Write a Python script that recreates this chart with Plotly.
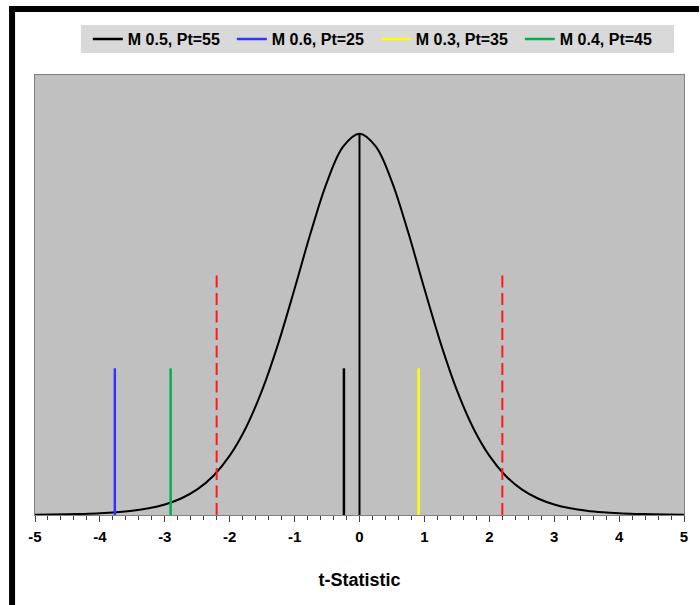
import plotly.graph_objects as go

# t-density curve (df = 11) sampled every 0.25
t_values = [-5.0, -4.75, -4.5, -4.25, -4.0, -3.75, -3.5, -3.25, -3.0, -2.75, -2.5,
            -2.25, -2.0, -1.75, -1.5, -1.25, -1.0, -0.75, -0.5, -0.25, 0.0,
            0.25, 0.5, 0.75, 1.0, 1.25, 1.5, 1.75, 2.0, 2.25, 2.5,
            2.75, 3.0, 3.25, 3.5, 3.75, 4.0, 4.25, 4.5, 4.75, 5.0]
density = [0.00032, 0.00048, 0.00074, 0.00115, 0.00178, 0.00279, 0.00438, 0.00688, 0.0108, 0.0169, 0.0262,
           0.0402, 0.0607, 0.0893, 0.1277, 0.1758, 0.2314, 0.2891, 0.3408, 0.3770, 0.3900,
           0.3770, 0.3408, 0.2891, 0.2314, 0.1758, 0.1277, 0.0893, 0.0607, 0.0402, 0.0262,
           0.0169, 0.0108, 0.00688, 0.00438, 0.00279, 0.00178, 0.00115, 0.00074, 0.00048, 0.00032]

peak_height = 0.39

# observed t-statistics per model
model_names = ["M 0.5, Pt=55", "M 0.6, Pt=25", "M 0.3, Pt=35", "M 0.4, Pt=45"]
model_t = [-0.24, -3.77, 0.91, -2.91]
model_height = 0.15
model_colors = ["#000000", "#3333FF", "#FFFF00", "#00B050"]

# two-sided critical values
critical_t = [-2.201, 2.201]
critical_height = 0.25

x_ticks = [-5, -4, -3, -2, -1, 0, 1, 2, 3, 4, 5]

fig = go.Figure()

fig.add_trace(go.Scatter(x=t_values, y=density, mode="lines", line_shape="spline",
                         line=dict(color="#000000", width=2), showlegend=False,
                         hoverinfo="skip"))
fig.add_trace(go.Scatter(x=[0, 0], y=[0, peak_height], mode="lines",
                         line=dict(color="#000000", width=2), showlegend=False))

for xc in critical_t:
    fig.add_trace(go.Scatter(x=[xc, xc], y=[0, critical_height], mode="lines",
                             line=dict(color="#FF1A1A", width=2, dash="12px,5.5px"),
                             showlegend=False))

for name, xv, col in zip(model_names, model_t, model_colors):
    fig.add_trace(go.Scatter(x=[xv, xv], y=[0, model_height], mode="lines", name=name,
                             line=dict(color=col, width=2.5)))

W, H = 700, 605
L, R, T, B = 35, 14, 75, 90
pw, ph = W - L - R, H - T - B


def px_x(p):
    return (p - L) / pw


def px_y(p):
    return (H - B - p) / ph


# outer chart frame (top and left edges)
frame = dict(type="rect", xref="paper", yref="paper", fillcolor="#000000", line_width=0, layer="above")
fig.add_shape(x0=px_x(9), x1=px_x(15), y0=px_y(606), y1=px_y(6), **frame)
fig.add_shape(x0=px_x(9), x1=px_x(701), y0=px_y(12), y1=px_y(6), **frame)

# legend background band
fig.add_shape(type="rect", xref="paper", yref="paper", x0=px_x(81), x1=px_x(676),
              y0=px_y(53), y1=px_y(25), fillcolor="#D9D9D9", line_width=0, layer="below")

font_family = "Liberation Sans, Arial, sans-serif"

fig.update_layout(
    width=W, height=H,
    margin=dict(l=L, r=R, t=T, b=B, pad=0),
    paper_bgcolor="#FFFFFF",
    plot_bgcolor="#C0C0C0",
    font=dict(family=font_family, color="#000000"),
    showlegend=True,
    legend=dict(orientation="h", xanchor="left", yanchor="middle",
                x=px_x(88), y=px_y(39),
                bgcolor="rgba(0,0,0,0)", borderwidth=0,
                entrywidth=99, entrywidthmode="pixels",
                font=dict(family=font_family, size=16, weight="bold", color="#000000"),
                itemclick=False, itemdoubleclick=False),
    xaxis=dict(range=[-5, 5], tickvals=x_ticks, ticktext=[str(v) for v in x_ticks],
               ticks="outside", ticklen=6, tickwidth=1, tickcolor="#404040",
               ticklabelstandoff=2,
               minor=dict(dtick=0.2, ticks="outside", ticklen=4, tickcolor="#404040", showgrid=False),
               showgrid=False, zeroline=False,
               showline=True, linecolor="#808080", linewidth=1, mirror=True,
               tickfont=dict(family=font_family, size=15, weight="bold", color="#000000"),
               title=dict(text="t-Statistic", standoff=29,
                          font=dict(family=font_family, size=18, weight="bold", color="#000000"))),
    yaxis=dict(range=[0, 0.45], showticklabels=False, ticks="", showgrid=False, zeroline=False,
               showline=True, linecolor="#808080", linewidth=1, mirror=True),
)

fig.write_html("out.html")
